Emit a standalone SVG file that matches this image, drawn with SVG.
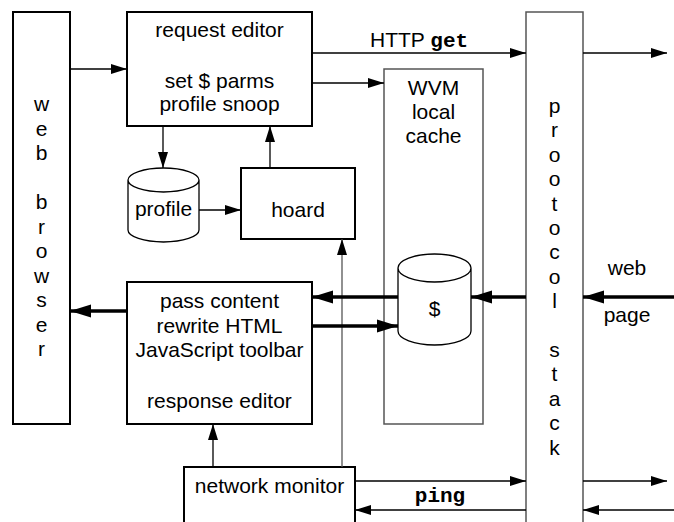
<svg xmlns="http://www.w3.org/2000/svg" width="674" height="522" viewBox="0 0 674 522">
  <style>
    .box { fill: #fff; stroke: #000; stroke-width: 2; }
    .gbox { fill: #fff; stroke: #555; stroke-width: 1.5; }
    .cyl { fill: #fff; stroke: #000; stroke-width: 1.3; }
    .t { font-family: "Liberation Sans", Arial, sans-serif; font-size: 21px; fill: #000; text-anchor: middle; }
    .m { font-family: "Liberation Mono", "Courier New", monospace; font-size: 21px; font-weight: bold; fill: #000; }
    .thin { stroke: #000; stroke-width: 1.3; fill: none; }
    .gthin { stroke: #555; stroke-width: 1.3; fill: none; }
    .thick { stroke: #000; stroke-width: 3.5; fill: none; }
  </style>
  <defs>
    <marker id="ah" markerUnits="userSpaceOnUse" markerWidth="16" markerHeight="12" refX="16" refY="6" orient="auto">
      <path d="M0,1 L16,6 L0,11 Z" fill="#000"/>
    </marker>
    <marker id="ahT" markerUnits="userSpaceOnUse" markerWidth="21" markerHeight="14" refX="21" refY="7" orient="auto">
      <path d="M0,0.5 L21,7 L0,13.5 Z" fill="#000"/>
    </marker>
  </defs>

  <!-- web browser -->
  <g id="browser">
    <rect class="box" x="13" y="12" width="57" height="412"/>
    <text class="t" x="41.5" y="111">w</text>
    <text class="t" x="41.5" y="135.5">e</text>
    <text class="t" x="41.5" y="160">b</text>
    <text class="t" x="41.5" y="209">b</text>
    <text class="t" x="41.5" y="233.5">r</text>
    <text class="t" x="41.5" y="258">o</text>
    <text class="t" x="41.5" y="282.5">w</text>
    <text class="t" x="41.5" y="307">s</text>
    <text class="t" x="41.5" y="331.5">e</text>
    <text class="t" x="41.5" y="356">r</text>
  </g>

  <!-- request editor -->
  <g id="request-editor">
    <rect class="box" x="127" y="12" width="185" height="114"/>
    <text class="t" x="219.5" y="37">request editor</text>
    <text class="t" x="219.5" y="87.5">set $ parms</text>
    <text class="t" x="219.5" y="111">profile snoop</text>
  </g>

  <!-- profile store -->
  <g id="profile">
    <path class="cyl" d="M128,180 L128,230 A35.5,12 0 0 0 199,230 L199,180 A35.5,12 0 0 0 128,180 A35.5,12 0 0 0 199,180"/>
    <text class="t" x="163.5" y="216">profile</text>
  </g>

  <!-- hoard -->
  <g id="hoard">
    <rect class="box" x="241" y="168" width="114" height="71"/>
    <text class="t" x="298" y="217">hoard</text>
  </g>

  <!-- WVM local cache -->
  <g id="wvm-cache">
    <rect class="gbox" x="384" y="69" width="99" height="355"/>
    <text class="t" x="433.5" y="95">WVM</text>
    <text class="t" x="433.5" y="119">local</text>
    <text class="t" x="433.5" y="143">cache</text>
  </g>

  <!-- cache store -->
  <g id="cache-store">
    <path class="cyl" d="M398,268 L398,331 A36.5,14 0 0 0 471,331 L471,268 A36.5,14 0 0 0 398,268 A36.5,14 0 0 0 471,268"/>
    <text class="t" x="434.5" y="316">$</text>
  </g>

  <!-- protocol stack -->
  <g id="protocol-stack">
    <rect class="gbox" x="526" y="12" width="57" height="530"/>
    <text class="t" x="554.5" y="113">p</text>
    <text class="t" x="554.5" y="137.4">r</text>
    <text class="t" x="554.5" y="161.8">o</text>
    <text class="t" x="554.5" y="186.2">o</text>
    <text class="t" x="554.5" y="210.6">t</text>
    <text class="t" x="554.5" y="235">o</text>
    <text class="t" x="554.5" y="259.4">c</text>
    <text class="t" x="554.5" y="283.8">o</text>
    <text class="t" x="554.5" y="308.2">l</text>
    <text class="t" x="554.5" y="357">s</text>
    <text class="t" x="554.5" y="381.4">t</text>
    <text class="t" x="554.5" y="405.8">a</text>
    <text class="t" x="554.5" y="430.2">c</text>
    <text class="t" x="554.5" y="454.6">k</text>
  </g>

  <!-- response editor -->
  <g id="response-editor">
    <rect class="box" x="127" y="282" width="185" height="142"/>
    <text class="t" x="219.5" y="308">pass content</text>
    <text class="t" x="219.5" y="333">rewrite HTML</text>
    <text class="t" x="219.5" y="357">JavaScript toolbar</text>
    <text class="t" x="219.5" y="408">response editor</text>
  </g>

  <!-- network monitor -->
  <g id="network-monitor">
    <rect class="box" x="184" y="467" width="171" height="70"/>
    <text class="t" x="269.5" y="493">network monitor</text>
  </g>

  <!-- connectors -->
  <g id="connectors">
    <line class="thin" x1="70" y1="69" x2="127" y2="69" marker-end="url(#ah)"/>
    <line class="thin" x1="312" y1="53" x2="526" y2="53" marker-end="url(#ah)"/>
    <line class="thin" x1="583" y1="53" x2="667" y2="53" marker-end="url(#ah)"/>
    <line class="thin" x1="312" y1="83" x2="384" y2="83" marker-end="url(#ah)"/>
    <line class="thin" x1="163" y1="126" x2="163" y2="168" marker-end="url(#ah)"/>
    <line class="thin" x1="270" y1="168" x2="270" y2="126" marker-end="url(#ah)"/>
    <line class="thin" x1="199" y1="210" x2="241" y2="210" marker-end="url(#ah)"/>
    <line class="gthin" x1="342" y1="467" x2="342" y2="239" marker-end="url(#ah)"/>
    <line class="thin" x1="213" y1="467" x2="213" y2="424" marker-end="url(#ah)"/>

    <line class="thick" x1="127" y1="311" x2="70" y2="311" marker-end="url(#ahT)"/>
    <line class="thick" x1="398" y1="297" x2="312" y2="297" marker-end="url(#ahT)"/>
    <line class="thick" x1="312" y1="326" x2="398" y2="326" marker-end="url(#ahT)"/>
    <line class="thick" x1="526" y1="297" x2="471" y2="297" marker-end="url(#ahT)"/>
    <line class="thick" x1="674" y1="297" x2="583" y2="297" marker-end="url(#ahT)"/>

    <line class="thin" x1="355" y1="481" x2="526" y2="481" marker-end="url(#ah)"/>
    <line class="thin" x1="526" y1="510" x2="355" y2="510" marker-end="url(#ah)"/>
    <line class="thin" x1="583" y1="481" x2="667" y2="481" marker-end="url(#ah)"/>
    <line class="thin" x1="674" y1="510" x2="583" y2="510" marker-end="url(#ah)"/>

    <text class="m" x="370" y="47" style="font-family: 'Liberation Sans', Arial, sans-serif; font-weight: normal;">HTTP <tspan style="font-family: 'Liberation Mono', 'Courier New', monospace; font-weight: bold;">get</tspan></text>
    <text class="m" x="440" y="502" text-anchor="middle">ping</text>
    <text class="t" x="627" y="275">web</text>
    <text class="t" x="627" y="322">page</text>
  </g>
</svg>
